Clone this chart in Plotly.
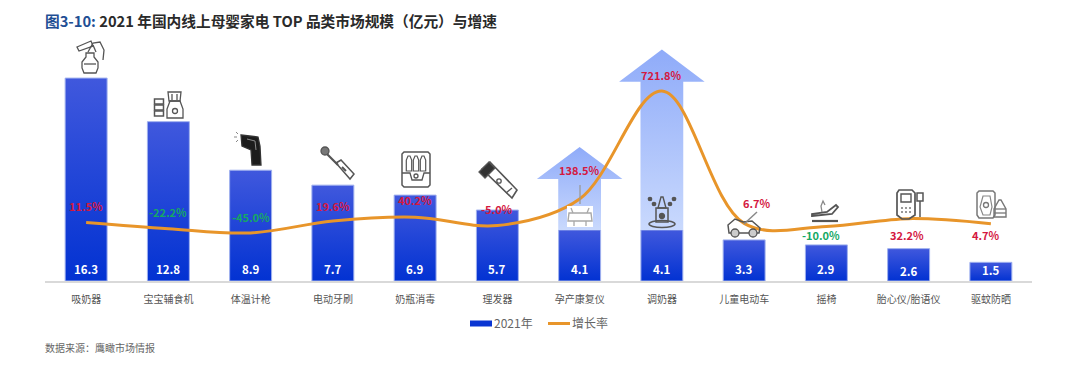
import plotly.graph_objects as go

categories = ["吸奶器", "宝宝辅食机", "体温计枪", "电动牙刷", "奶瓶消毒", "理发器",
              "孕产康复仪", "调奶器", "儿童电动车", "摇椅", "胎心仪/胎语仪", "驱蚊防晒"]
market_size = [16.3, 12.8, 8.9, 7.7, 6.9, 5.7, 4.1, 4.1, 3.3, 2.9, 2.6, 1.5]
growth_rate = [11.5, -22.2, -45.0, 19.6, 40.2, -5.0, 138.5, 721.8, 6.7, -10.0, 32.2, 4.7]

# layout of the plot area, in window pixels
L, R, T, B = 45, 1032, 40, 281
W, H = 1080, 370
idx = list(range(len(categories)))

# offsets of the growth labels from their points
label_dx = [0, 0, 0, 0, 0, 0, 0, 0, 13, -5, -2, -5]
label_dy = [16, 17, 16, 15, 17, 17, 29, 16, 20, -9, -16, -11]
value_dy = [12, 12, 12, 12, 12, 12, 12, 12, 12, 12, 10, 11]

RED, GREEN, ICON = "#d4183f", "#16a864", "#555555"


def X(p):
    return (p - L) / (R - L)


def Y(p):
    return (B - p) / (B - T)


def path(pts, close=True):
    d = "M " + " L ".join(f"{X(a):.5f},{Y(b):.5f}" for a, b in pts)
    return d + (" Z" if close else "")


shapes = []


def poly(pts, fill="rgba(0,0,0,0)", line=ICON, w=1.3, close=True):
    shapes.append(dict(type="path", xref="paper", yref="paper", path=path(pts, close),
                       fillcolor=fill, line=dict(color=line, width=w)))


def rect(x0, y0, x1, y1, **k):
    poly([(x0, y0), (x1, y0), (x1, y1), (x0, y1)], **k)


def circ(cx, cy, rx, ry=None, fill="rgba(0,0,0,0)", line=ICON, w=1.3):
    ry = rx if ry is None else ry
    shapes.append(dict(type="circle", xref="paper", yref="paper",
                       x0=X(cx - rx), x1=X(cx + rx), y0=Y(cy + ry), y1=Y(cy - ry),
                       fillcolor=fill, line=dict(color=line, width=w)))


# breast pump
poly([(84, 73), (96, 73), (98, 68), (98, 62), (94, 57), (94, 53), (86, 53), (86, 57), (82, 62), (82, 68)])
poly([(84, 64), (96, 64)], close=False)
poly([(79, 51), (77, 47), (91, 41), (93, 46)])
poly([(88, 52), (93, 43), (100, 42), (104, 50), (103, 60)], close=False)
poly([(93, 45), (96, 52)], close=False)
# baby food maker
poly([(167, 118), (183, 118), (183, 109), (180, 101), (170, 101), (167, 109)])
poly([(169, 101), (168, 92), (181, 92), (180, 101)])
poly([(172, 94), (172, 100)], close=False)
poly([(177, 94), (177, 100)], close=False)
circ(175, 111, 2.5)
for y0 in (99, 105, 111):
    rect(154.5, y0, 163.5, y0 + 5, w=1.5)
# thermometer gun
poly([(241, 135), (258, 137), (260, 146), (261, 165), (252, 165), (251, 150), (242, 146)],
     fill="#1c1c1c", line="#333333")
poly([(247, 139), (255, 141), (256, 150)], line="#8a8a8a", w=1, close=False)
for a, b in [((236, 132), (238, 134)), ((234, 137), (237, 137)), ((236, 142), (238, 140))]:
    poly([a, b], close=False, line="#888888", w=1)
# toothbrush
circ(325, 151, 4, fill="#777777")
poly([(327, 154), (338, 165)], close=False, w=2.2)
poly([(336, 163), (341, 160), (354, 174), (350, 179)], w=1.5)
poly([(342, 167), (346, 171)], close=False, w=2)
# bottle steriliser
poly([(404, 152), (428, 152), (430, 154), (430, 185), (428, 187), (404, 187), (402, 185), (402, 154)], w=1.5)
poly([(402, 173), (410, 173), (412, 180), (422, 180), (424, 173), (430, 173)], close=False)
for cx in (409, 416, 423):
    poly([(cx - 2.7, 171), (cx + 2.7, 171), (cx + 2.7, 160), (cx + 1, 156), (cx - 1, 156), (cx - 2.7, 160)], w=1.2)
circ(416, 176, 2)
# hair clipper
poly([(482, 169), (490, 162), (517, 190), (512, 198)], w=1.6)
poly([(479, 172), (489, 162), (495, 168), (485, 178)], fill="#333333")
poly([(506, 193), (512, 188)], close=False)
circ(499, 181, 2.2)
# pregnancy rehabilitation device
rect(567, 206, 593, 227, fill="#ffffff", line="#ffffff", w=0)
poly([(569, 213), (591, 213), (592, 221), (568, 221)], line="#a8a8a8", w=1.4)
poly([(571, 208), (573, 213)], line="#a8a8a8", close=False)
poly([(589, 208), (587, 213)], line="#a8a8a8", close=False)
poly([(574, 221), (574, 226)], line="#a8a8a8", close=False)
poly([(586, 221), (586, 226)], line="#a8a8a8", close=False)
poly([(580, 185), (580, 204)], line="#9a9a9a", close=False)
# bottle warmer
poly([(658, 208), (661, 197), (663, 197), (666, 208)], w=1.4)
rect(656, 208, 668, 222, w=1.5)
circ(662, 216, 2.5, fill="#555555")
circ(662, 224, 13, 3.5, w=1.5)
for cx, cy in [(650, 199), (654, 204), (674, 199), (670, 204)]:
    circ(cx, cy, 1.7, fill="#555555")
# ride-on car
poly([(729, 233), (728, 225), (735, 219), (743, 222), (752, 221), (760, 228), (759, 233)], w=1.5)
circ(735, 233, 4, fill="#cccccc")
circ(753, 233, 4, fill="#cccccc")
poly([(744, 224), (757, 212)], close=False, line="#888888", w=1.5)
# rocker
poly([(812, 216), (832, 214), (838, 207), (836, 205), (827, 212), (812, 214)], w=1.8)
poly([(812, 221), (838, 221)], close=False, w=2.2)
poly([(822, 212), (821, 206), (823, 201), (825, 205)], close=False, line="#888888")
# fetal doppler
poly([(899, 190), (912, 190), (915, 193), (915, 215), (909, 219), (902, 219), (897, 215), (897, 193)], w=1.7)
rect(901, 194, 911, 202, w=1.4)
for cx in (902, 906, 910):
    poly([(cx - .8, 208), (cx + .8, 208)], close=False, w=1.4)
    poly([(cx - .8, 212), (cx + .8, 212)], close=False, w=1.4)
rect(917, 193, 923, 201, w=1.5)
poly([(920, 201), (920, 217)], close=False, w=1.5)
# repellent
poly([(979, 191), (993, 191), (995, 193), (995, 215), (993, 218), (979, 218), (977, 215), (977, 193)], line="#777777", w=1.5)
poly([(983, 196), (990, 196), (992, 207), (990, 215), (983, 215), (980, 207)], line="#888888", w=1.2)
circ(986, 205, 2.5, line="#777777")
poly([(994, 217), (1006, 217), (1006, 209), (1001, 200), (999, 200), (994, 209)], line="#777777", w=1.4)
poly([(994, 209), (1006, 209)], close=False, line="#777777")
poly([(994, 213), (1006, 213)], close=False, line="#777777")

fig = go.Figure()

# arrows rising from the two bars with outsized growth
arrow_bars = [6, 7]
arrow_tips = [10.76, 18.6]
arrow_heads = [8.2, 16.0]
for i, tip, head in zip(arrow_bars, arrow_tips, arrow_heads):
    base = market_size[i]
    fig.add_trace(go.Scatter(
        x=[i - .26, i - .26, i - .52, i, i + .52, i + .26, i + .26, i - .26],
        y=[base, head, head, tip, head, head, base, base],
        mode="lines", line=dict(width=0), fill="toself", showlegend=False, hoverinfo="skip",
        fillgradient=dict(type="vertical", colorscale=[[0, "#c9d9fd"], [1, "#8fabf9"]]),
    ))

fig.add_trace(go.Bar(
    x=idx, y=market_size, name="2021年", width=0.51,
    marker=dict(color="#0a35d2", line=dict(color="#9fb0ee", width=1)),
))
fig.add_trace(go.Scatter(
    x=idx, y=growth_rate, name="增长率", yaxis="y2", mode="lines",
    line=dict(color="#e8952a", width=3, shape="spline", smoothing=1.0),
))

FONT = "Noto Sans CJK SC, Noto Sans, sans-serif"
annotations = []
for i, v in enumerate(market_size):
    annotations.append(dict(x=i, y=0, xref="x", yref="y", yshift=value_dy[i], showarrow=False,
                            text=f"<b>{v:.1f}</b>", font=dict(color="#ffffff", size=11.5, family=FONT)))
for i, v in enumerate(growth_rate):
    annotations.append(dict(x=i, y=v, xref="x", yref="y2", xshift=label_dx[i], yshift=label_dy[i],
                            showarrow=False, text=f"<b>{v:.1f}%</b>",
                            font=dict(color=RED if v > 0 or i == 5 else GREEN, size=11, family=FONT)))
annotations.append(dict(
    x=X(43), y=Y(20), xref="paper", yref="paper", xanchor="left", yanchor="middle", showarrow=False,
    text="<b><span style='color:#1f4f94'>图3-10:</span> 2021 年国内线上母婴家电 TOP 品类市场规模（亿元）与增速</b>",
    font=dict(color="#2a2a2a", size=14.7, family=FONT)))
annotations.append(dict(
    x=X(43), y=Y(347), xref="paper", yref="paper", xanchor="left", yanchor="middle", showarrow=False,
    text="数据来源：鹰瞰市场情报", font=dict(color="#666666", size=10, family=FONT)))

fig.update_layout(
    width=W, height=H, autosize=False, paper_bgcolor="#ffffff", plot_bgcolor="#ffffff",
    margin=dict(l=L, r=W - R, t=T, b=H - B, pad=0),
    xaxis=dict(range=[-.5, 11.5], tickmode="array", tickvals=idx, ticktext=categories, showgrid=False,
               zeroline=False, showline=True, linecolor="#d9d9d9", linewidth=2, ticks="",
               ticklabelstandoff=8,
               tickfont=dict(size=10, color="#555555", family=FONT)),
    yaxis=dict(range=[0, 19.36], visible=False, showgrid=False, zeroline=False),
    yaxis2=dict(range=[-304.9, 997.8], overlaying="y", side="right", visible=False,
                showgrid=False, zeroline=False),
    legend=dict(orientation="h", x=X(465), y=Y(309), xanchor="left", yanchor="top",
                font=dict(size=12, color="#666666", family=FONT), bgcolor="rgba(0,0,0,0)",
                itemwidth=30, tracegroupgap=0, traceorder="normal"),
    bargap=.49, shapes=shapes, annotations=annotations, showlegend=True,
)

script = """
document.body.style.margin = '0';
var gd = document.getElementById('{plot_id}');
var svg = gd.querySelector('svg.main-svg');
var ns = 'http://www.w3.org/2000/svg';
var defs = svg.querySelector('defs') || svg.appendChild(document.createElementNS(ns, 'defs'));
var g = document.createElementNS(ns, 'linearGradient');
g.setAttribute('id', 'barfade'); g.setAttribute('x1', '0'); g.setAttribute('y1', '0');
g.setAttribute('x2', '0'); g.setAttribute('y2', '1');
[['0', '#4058dd'], ['1', '#0232d2']].forEach(function (s) {
  var e = document.createElementNS(ns, 'stop');
  e.setAttribute('offset', s[0]); e.setAttribute('stop-color', s[1]); g.appendChild(e);
});
defs.appendChild(g);
gd.querySelectorAll('.barlayer .point path').forEach(function (p) { p.style.fill = 'url(#barfade)'; });
var items = gd.querySelectorAll('.legend .traces');
items.forEach(function (t, k) {
  var m = /translate\\(([-\\d.]+),\\s*([-\\d.]+)\\)/.exec(t.getAttribute('transform'));
  if (k === 0) { gd._l0 = parseFloat(m[1]); }
  t.setAttribute('transform', 'translate(' + (gd._l0 + 78 * k) + ',' + m[2] + ')');
  var tx = t.querySelector('text');
  if (tx) { tx.setAttribute('x', 29); }
  var bar = t.querySelector('path.legendbar, .legendbar path, .legendpoints path');
  if (bar) { bar.setAttribute('d', 'M-15,-3h22v6h-22z'); bar.style.strokeWidth = '0'; }
  var ln = t.querySelector('.legendlines path, path.js-line');
  if (ln) { ln.setAttribute('d', 'M5,0h22'); }
});
"""
fig.write_html("out.html", post_script=script, config={"displayModeBar": False})
